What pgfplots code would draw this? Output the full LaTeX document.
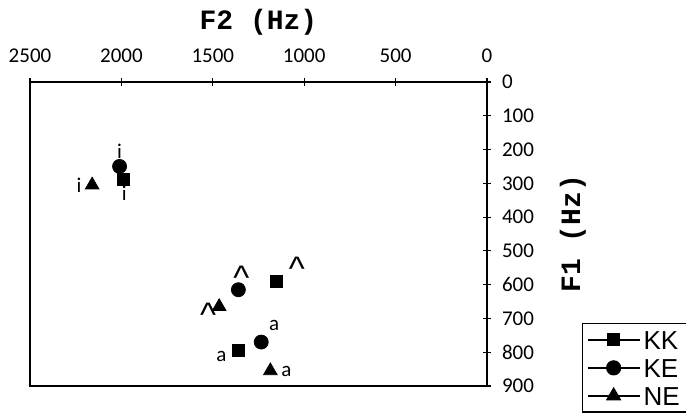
\documentclass[border=0pt]{standalone}
\usepackage{fontspec}
\setmainfont{Carlito}
\newfontfamily\monofont{Liberation Mono}
\newfontfamily\legfont{Liberation Sans}
\usepackage{pgfplots}
\pgfplotsset{compat=1.18}
\tikzset{lbl/.style={font=\fontsize{10.5}{12}\selectfont, inner sep=0pt, anchor=center},
  crt/.style={font=\legfont\fontsize{17}{18}\selectfont, inner sep=0pt, anchor=center}}

\begin{document}
\begin{tikzpicture}
\begin{axis}[
  scale only axis,
  width=228.5pt, height=152pt,
  xmin=0, xmax=2500, ymin=0, ymax=900,
  x dir=reverse, y dir=reverse,
  xtick={0,500,...,2500}, ytick={0,100,...,900},
  xtick pos=upper, ytick pos=right,
  xticklabel pos=upper, yticklabel pos=right,
  tick align=center,
  major tick length=4pt,
  scaled ticks=false,
  /pgf/number format/assume math mode=true,
  /pgf/number format/1000 sep={},
  tick label style={font=\fontsize{10.5}{12}\selectfont},
  xticklabel style={yshift=4pt},
  yticklabel style={xshift=2pt},
  axis line style={line width=0.8pt},
  tick style={line width=0.6pt, black},
  title={F2 (Hz)},
  title style={font=\monofont\bfseries\fontsize{14}{15}\selectfont, at={(axis description cs:0.5,1)}, anchor=base, yshift=20pt},
  ylabel={F1 (Hz)},
  ylabel style={font=\monofont\bfseries\fontsize{14}{15}\selectfont, at={(axis description cs:1.188,0.5)}, anchor=center},
  legend cell align=left,
  legend style={at={(axis description cs:1.208,0.207)}, anchor=north west,
    font=\legfont\fontsize{13}{14}\selectfont, draw=black, line width=0.6pt,
    inner sep=2pt, row sep=1.8pt,
    nodes={inner sep=1.5pt, text height=9.2pt, text depth=0pt}},
  legend image code/.code={\draw[black, line width=1pt] (0pt,0pt) -- (26pt,0pt); \draw[#1] plot coordinates {(13pt,0pt)};},
]
\coordinate (bl) at (axis description cs:0,0);
\coordinate (tr) at (axis description cs:1,1);

\addplot[only marks, mark=square*, mark size=3pt, black] coordinates {(1990,287) (1150,590) (1360,795)};
\addlegendentry{KK}
\addplot[only marks, mark=*, mark size=3.5pt, black] coordinates {(2010,250) (1360,615) (1235,770)};
\addlegendentry{KE}
\addplot[only marks, mark=triangle*, mark size=3.9pt, black] coordinates {(2160,305) (1465,665) (1185,855)};
\addlegendentry{NE}

\node[lbl, yshift=7.5pt] at (axis cs:2010,250) {i};
\node[lbl, xshift=0.5pt, yshift=-7pt] at (axis cs:1990,287) {i};
\node[lbl, xshift=-6.5pt] at (axis cs:2160,305) {i};
\node[crt, xshift=10pt, yshift=6pt] at (axis cs:1150,590) {\textasciicircum};
\node[crt, xshift=1.5pt, yshift=6pt] at (axis cs:1360,615) {\textasciicircum};
\node[crt, xshift=-5.5pt, yshift=-4pt] at (axis cs:1465,665) {\textasciicircum};
\node[lbl, xshift=6.5pt, yshift=8.5pt] at (axis cs:1235,770) {a};
\node[lbl, xshift=-8.5pt, yshift=-3pt] at (axis cs:1360,795) {a};
\node[lbl, xshift=8pt, yshift=-0.5pt] at (axis cs:1185,855) {a};
\end{axis}
\pgfresetboundingbox
\path[use as bounding box] ([shift={(-15pt,-13.5pt)}]bl) rectangle ([shift={(99.5pt,41pt)}]tr);
\end{tikzpicture}
\end{document}
